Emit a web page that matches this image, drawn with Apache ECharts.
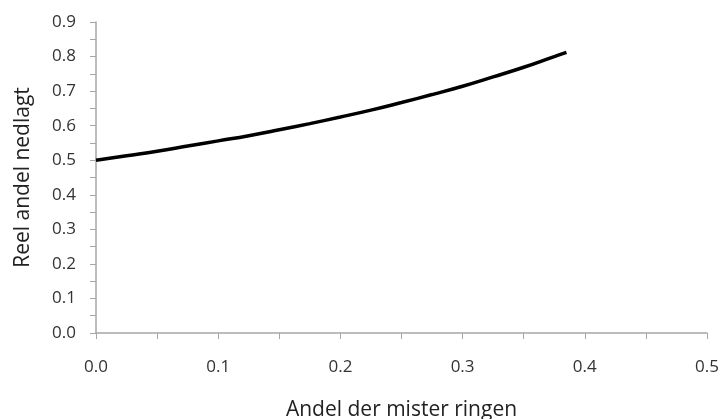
<!DOCTYPE html>
<html>
<head>
<meta charset="utf-8">
<script src="https://cdn.jsdelivr.net/npm/echarts@6/dist/echarts.min.js"></script>
<style>
  html, body { margin: 0; padding: 0; background: #fff; }
  #chart { width: 725px; height: 419px; }
</style>
</head>
<body>
<div id="chart"></div>
<script>
// values
const xValues = [0, 0.025, 0.05, 0.075, 0.1, 0.125, 0.15, 0.175, 0.2, 0.225, 0.25, 0.275, 0.3, 0.325, 0.35, 0.375, 0.385];
const yValues = [0.5, 0.513, 0.526, 0.541, 0.556, 0.571, 0.588, 0.606, 0.625, 0.645, 0.667, 0.69, 0.714, 0.741, 0.769, 0.8, 0.812];
const xTitle = 'Andel der mister ringen';
const yTitle = 'Reel andel nedlagt';

const chart = echarts.init(document.getElementById('chart'));
const axisGray = '#a6a6a6';
const font = '"Open Sans", "DejaVu Sans", sans-serif';

chart.setOption({
  animation: false,
  grid: { left: 96, right: 18, top: 22, bottom: 86, containLabel: false, outerBoundsMode: 'none' },
  xAxis: {
    type: 'value',
    min: 0,
    max: 0.5,
    interval: 0.1,
    name: xTitle,
    nameLocation: 'middle',
    nameGap: 67,
    nameTextStyle: { fontFamily: font, fontSize: 21, color: '#222' },
    axisLine: { lineStyle: { color: axisGray, width: 1.5 } },
    axisTick: { inside: false, length: 6, lineStyle: { color: axisGray } },
    minorTick: { show: true, splitNumber: 2, length: 6, lineStyle: { color: axisGray } },
    splitLine: { show: false },
    axisLabel: {
      margin: 26,
      fontFamily: font, fontSize: 17, color: '#333',
      formatter: v => v.toFixed(1)
    }
  },
  yAxis: {
    type: 'value',
    min: 0,
    max: 0.9,
    interval: 0.1,
    name: yTitle,
    nameLocation: 'middle',
    nameGap: 62,
    nameTextStyle: { fontFamily: font, fontSize: 21, color: '#222' },
    axisLine: { show: true, lineStyle: { color: axisGray, width: 1.5 } },
    axisTick: { show: true, length: 6, lineStyle: { color: axisGray } },
    minorTick: { show: true, splitNumber: 2, length: 6, lineStyle: { color: axisGray } },
    splitLine: { show: false },
    axisLabel: {
      margin: 20,
      fontFamily: font, fontSize: 17, color: '#333',
      formatter: v => v.toFixed(1)
    }
  },
  series: [{
    type: 'line',
    data: xValues.map((x, i) => [x, yValues[i]]),
    showSymbol: false,
    smooth: true,
    lineStyle: { color: '#000', width: 3.5 }
  }]
});
</script>
</body>
</html>
